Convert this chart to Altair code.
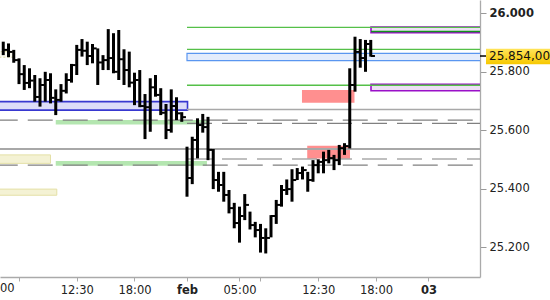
import altair as alt
import pandas as pd

# ---------------- data ----------------
slots = list(range(1, 72))  # 30-minute bar index
high = [25903, 25897, 25875, 25846, 25823, 25812, 25789, 25778, 25800, 25795,
        25740, 25758, 25795, 25827, 25892, 25912, 25903, 25895, 25880, 25857,
        25946, 25932, 25943, 25877, 25869, 25797, 25806, 25724, 25778, 25789,
        25744, 25690, 25740, 25713, 25662,
        25544, 25578, 25641, 25656, 25646, 25536, 25458, 25458, 25396, 25352,
        25339, 25382, 25322, 25287, 25280, 25265, 25310, 25362, 25413, 25432,
        25467, 25471, 25476, 25458, 25498, 25501, 25527, 25533, 25516, 25550,
        25556, 25812, 25920, 25912, 25909, 25909]
low = [25857, 25850, 25831, 25758, 25738, 25744, 25698, 25681, 25698, 25692,
       25652, 25698, 25726, 25763, 25789, 25852, 25823, 25829, 25755, 25806,
       25806, 25795, 25772, 25755, 25747, 25686, 25679, 25570, 25595, 25715,
       25652, 25570, 25592, 25635, 25629,
       25373, 25416, 25504, 25592, 25498, 25399, 25390, 25356, 25316, 25265,
       25216, 25293, 25261, 25234, 25182, 25179, 25234, 25280, 25339, 25379,
       25356, 25430, 25432, 25390, 25424, 25453, 25453, 25487, 25464, 25481,
       25516, 25538, 25732, 25814, 25800, 25852]
close = [25875, 25868, 25840, 25792, 25762, 25770, 25714, 25755, 25772, 25711,
         25704, 25735, 25772, 25823, 25875, 25872, 25854, 25880, 25832, 25840,
         25847, 25800, 25843, 25806, 25763, 25772, 25683, 25679, 25747, 25721,
         25660, 25601, 25683, 25658, 25645,
         25437, 25567, 25618, 25611, 25533, 25430, 25413, 25379, 25334, 25283,
         25307, 25345, 25276, 25259, 25232, 25232, 25307, 25345, 25396, 25399,
         25430, 25454, 25464, 25430, 25481, 25492, 25498, 25505, 25498, 25539,
         25546, 25755, 25868, 25847, 25895, 25854]

# axis ticks (bar-index positions) and labels
x_tick_slots = [4, 15, 26, 36, 46, 50, 61, 72, 82]
x_tick_labels = ["", "12:30", "18:00", "feb", "05:00", "", "12:30", "18:00", "03"]
clipped_label_slot = [0]
clipped_label = ["05:00"]
y_ticks = [25200, 25400, 25600, 25800, 26000]

# zones: start slot, end slot, low price, high price
blue_l_start, blue_l_end, blue_l_lo, blue_l_hi = [-1], [36.1], [25669], [25698]
blue_r_start, blue_r_end, blue_r_lo, blue_r_hi = [36], [100], [25838], [25863]
purple_start, purple_end = [71.05, 71.05], [100, 100]
purple_lo, purple_hi = [25934, 25735], [25953, 25757]
pink_start, pink_end = [57.9, 58.9], [67.9, 67.05]
pink_lo, pink_hi = [25694, 25504], [25738, 25547]
lgreen_start, lgreen_end = [11, 11], [39.8, 39.8]
lgreen_lo, lgreen_hi = [25620, 25479], [25635, 25495]
beige_start, beige_end = [-1, -1], [10, 11.2]
beige_lo, beige_hi = [25487, 25378], [25516, 25399]
dotted_start, dotted_end, dotted_lo, dotted_hi = [-1], [3.1], [25850], [25869]

# lines
green_line_start, green_line_end = [36, 36, 36], [100, 100, 100]
green_line_price = [25952, 25877, 25754]
dkgreen_start, dkgreen_end, dkgreen_price = [71.05], [100], [25938]
gray_thick_start, gray_thick_end, gray_thick_price = [-1], [100], [25536]
gray_thin_start, gray_thin_end, gray_thin_price = [36], [100], [25671]
dash_start = [-1, 36, -1, 36]
dash_end = [100, 100, 100, 100]
dash_price = [25635, 25624, 25481, 25502]

last_price = [25854]
last_label = ["25.854,00"]

# ---------------- chart ----------------
X_DOMAIN = [0.381, 91.81]
Y_DOMAIN = [25098.5, 26045.5]
xs = alt.Scale(domain=X_DOMAIN, nice=False, zero=False)
ys = alt.Scale(domain=Y_DOMAIN, nice=False, zero=False)

label_map = "{" + ",".join(f"'{s}':'{l}'" for s, l in zip(x_tick_slots, x_tick_labels)) + "}"

x_axis = alt.Axis(
    values=x_tick_slots, labelExpr=f"{label_map}[''+datum.value]", title=None, grid=False,
    tickSize=4, tickColor="#aaaaaa", domainColor="#aaaaaa", domainWidth=1.5,
    labelFontSize=11.5, labelColor="#222222", labelFont="DejaVu Sans",
    labelFlush=False, labelOverlap=False, labelPadding=3,
    labelFontWeight=alt.condition("datum.value == 36 || datum.value == 82",
                                  alt.value("bold"), alt.value("normal")),
)
y_axis = alt.Axis(
    orient="right", values=y_ticks,
    labelExpr="replace(format(datum.value, ',d'), ',', '.')",
    title=None, grid=False, tickSize=6, tickColor="#999999", domainColor="#aaaaaa",
    domainWidth=1.3, labelFontSize=11.5, labelColor="#222222", labelFont="DejaVu Sans",
    labelPadding=3, labelFlush=False,
    labelFontWeight=alt.condition("datum.value == 26000", alt.value("bold"), alt.value("normal")),
)

bars = pd.DataFrame({"slot": slots, "high": high, "low": low, "close": close})


def zone_df(s, e, lo, hi):
    return pd.DataFrame({"s": s, "e": e, "lo": lo, "hi": hi})


def line_df(s, e, p):
    return pd.DataFrame({"s": s, "e": e, "p": p})


def zone(df, **mk):
    return alt.Chart(df).mark_rect(clip=True, **mk).encode(
        x=alt.X("s:Q", scale=xs, axis=x_axis),
        x2="e:Q",
        y=alt.Y("lo:Q", scale=ys, axis=y_axis),
        y2="hi:Q",
    )


def hline(df, **mk):
    return alt.Chart(df).mark_rule(clip=True, **mk).encode(
        x=alt.X("s:Q", scale=xs, axis=x_axis),
        x2="e:Q",
        y=alt.Y("p:Q", scale=ys, axis=y_axis),
    )


hl = alt.Chart(bars).mark_rule(strokeWidth=3, color="black", clip=True).encode(
    x=alt.X("slot:Q", scale=xs, axis=x_axis),
    y=alt.Y("low:Q", scale=ys, axis=y_axis),
    y2="high:Q",
)
cl = alt.Chart(bars).transform_calculate(s2="datum.slot + 0.8").mark_rule(
    strokeWidth=2, color="black", clip=True).encode(
    x=alt.X("slot:Q", scale=xs, axis=x_axis),
    x2="s2:Q",
    y=alt.Y("close:Q", scale=ys, axis=y_axis),
)

layers = [
    zone(zone_df(beige_start, beige_end, beige_lo, beige_hi), fill="#f4f2d4", stroke="#e4e0a6", strokeWidth=1),
    zone(zone_df(dotted_start, dotted_end, dotted_lo, dotted_hi), fill="#fbfaf0", stroke="#d8d49a",
         strokeWidth=1, strokeDash=[2, 2]),
    zone(zone_df(lgreen_start, lgreen_end, lgreen_lo, lgreen_hi), fill="#b4e6b0"),
    zone(zone_df(blue_l_start, blue_l_end, blue_l_lo, blue_l_hi), fill="#dcdcf8", stroke="#3838d0", strokeWidth=1.6),
    zone(zone_df(blue_r_start, blue_r_end, blue_r_lo, blue_r_hi), fill="#e4ecfc", stroke="#5a96f0", strokeWidth=1.2),
    zone(zone_df(purple_start, purple_end, purple_lo, purple_hi), fill="#ece0f4", stroke="#9a10c8", strokeWidth=1.6),
    zone(zone_df(pink_start, pink_end, pink_lo, pink_hi), fill="#ff8f8f"),
    hline(line_df(dash_start, dash_end, dash_price), color="#808080", strokeWidth=1.2, strokeDash=[25, 10]),
    hline(line_df(gray_thick_start, gray_thick_end, gray_thick_price), color="#a8a8a8", strokeWidth=2),
    hline(line_df(gray_thin_start, gray_thin_end, gray_thin_price), color="#a8a8a8", strokeWidth=1.5),
    hline(line_df(green_line_start, green_line_end, green_line_price), color="#55c048", strokeWidth=1.3),
    hline(line_df(dkgreen_start, dkgreen_end, dkgreen_price), color="#12921a", strokeWidth=1.5),
    hl,
    cl,
]

# first time label, mostly outside the plot on the left (only its tail shows)
cl_df = pd.DataFrame({"slot": clipped_label_slot, "label": clipped_label})
clipped_text = alt.Chart(cl_df).mark_text(
    align="center", baseline="middle", fontSize=11.5, font="DejaVu Sans", color="#222222", clip=False
).encode(
    x=alt.X("slot:Q", scale=xs, axis=x_axis), y=alt.value(289), text="label:N",
)

lp = pd.DataFrame({"p": last_price, "label": last_label})
price_box = alt.Chart(lp).transform_calculate(top="datum.p + 25", bot="datum.p - 28").mark_rect(
    clip=False,
    fill={"gradient": "linear", "x1": 0, "y1": 0, "x2": 0, "y2": 1,
          "stops": [{"offset": 0, "color": "#ffe45a"}, {"offset": 1, "color": "#f7c800"}]},
).encode(
    x=alt.value(486), x2=alt.value(550),
    y=alt.Y("top:Q", scale=ys, axis=y_axis), y2="bot:Q",
)
price_tick = alt.Chart(lp).mark_rule(color="black", strokeWidth=1.5, clip=False).encode(
    x=alt.value(480), x2=alt.value(486), y=alt.Y("p:Q", scale=ys, axis=y_axis),
)
price_text = alt.Chart(lp).mark_text(
    align="left", baseline="middle", fontSize=12, font="DejaVu Sans", color="#111111", clip=False
).encode(
    x=alt.value(489), y=alt.Y("p:Q", scale=ys, axis=y_axis), text="label:N",
)

chart = alt.layer(*layers, clipped_text, price_box, price_tick, price_text).properties(
    width=480, height=277,
    autosize=alt.AutoSizeParams(type="none"),
    padding={"left": 0, "top": 0, "right": 70, "bottom": 23},
    background="white",
).configure_view(strokeWidth=0)

chart.save("out.html", embed_options={"renderer": "svg", "actions": False})
